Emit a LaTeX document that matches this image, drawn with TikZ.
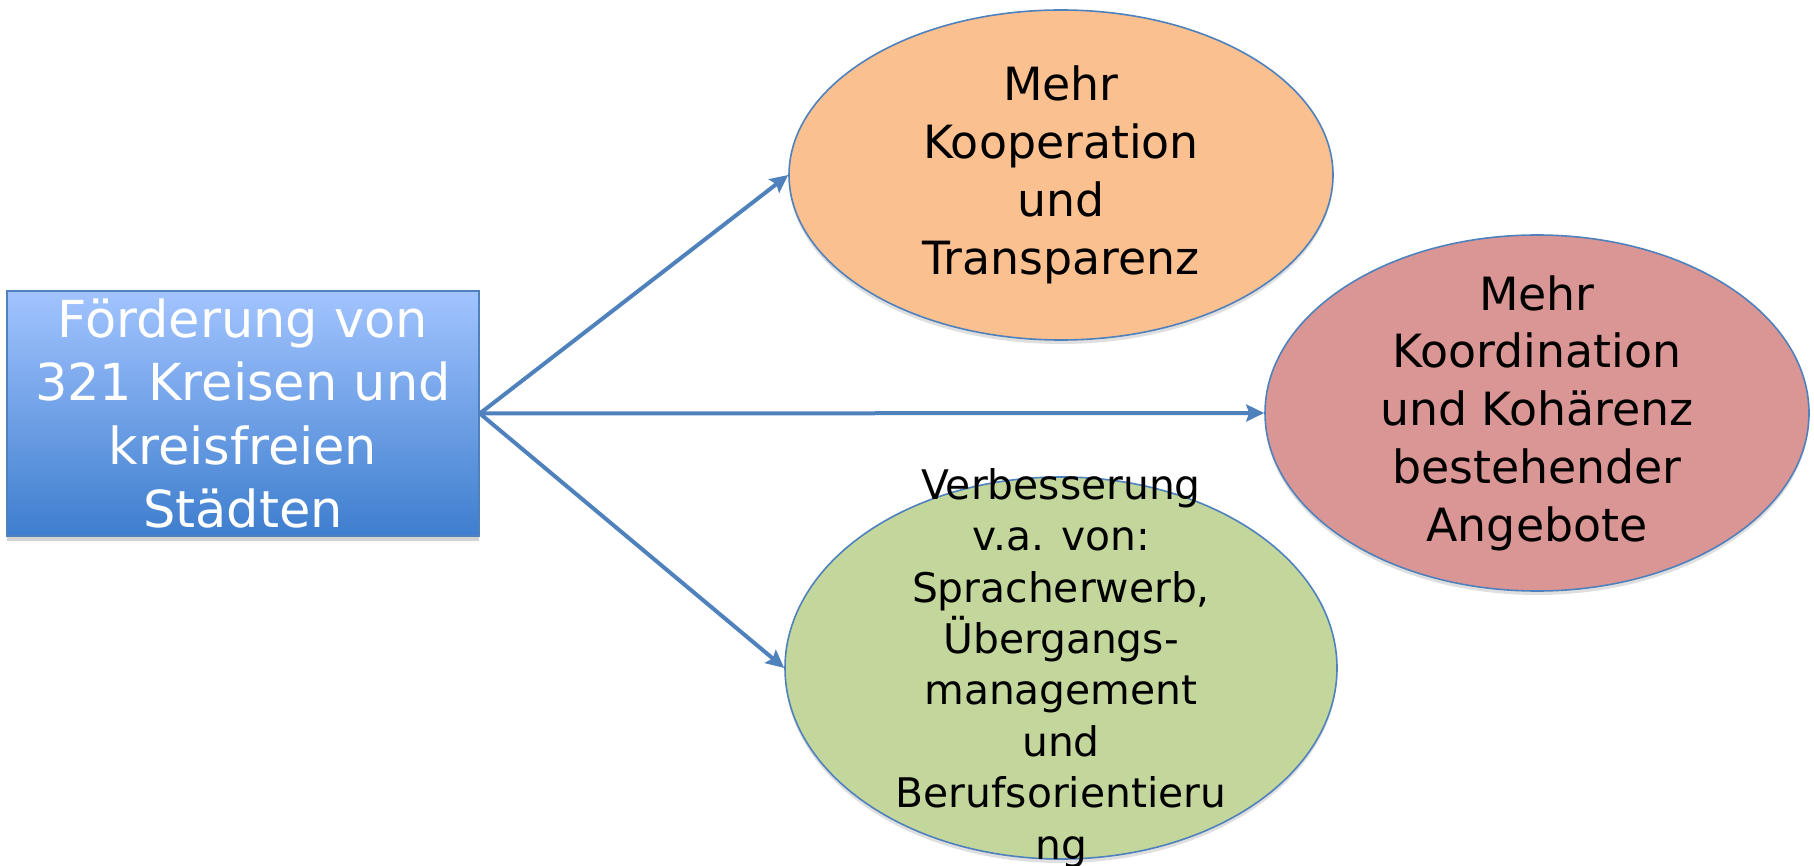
\documentclass[tikz,border=0pt]{standalone}
\usepackage{fontspec}
\setmainfont{DejaVu Sans}
\usepackage{tikz}
\usetikzlibrary{arrows.meta}
\usetikzlibrary{shapes.geometric,shadows}
\definecolor{lineblue}{HTML}{4F81BD}
\definecolor{boxtop}{HTML}{A2C4FF}
\definecolor{boxbottom}{HTML}{3E7ECE}
\definecolor{lightorange}{HTML}{FAC090}
\definecolor{lightred}{HTML}{D99694}
\definecolor{lightgreen}{HTML}{C3D69B}
\tikzset{hub/.style={rectangle, draw=lineblue, line width=0.8pt, top color=boxtop, bottom color=boxbottom, inner sep=0pt, minimum width=236pt, minimum height=122.5pt, drop shadow={shadow xshift=0pt, shadow yshift=-2.5pt, opacity=0.35}},
	goal/.style={ellipse, draw=lineblue, line width=0.8pt, inner sep=0pt, drop shadow={shadow xshift=0pt, shadow yshift=-2pt, opacity=0.25}},
	link/.style={draw=lineblue, line width=2pt, -{Stealth[length=9pt,width=8.5pt,inset=1.5pt]}}
}
\newcommand{\hubfont}{\fontsize{25.5}{31.7}\selectfont}
\newcommand{\goalfont}{\fontsize{22.9}{28.9}\selectfont}
\newcommand{\smallgoalfont}{\fontsize{20.4}{25.7}\selectfont}

\begin{document}
\begin{tikzpicture}[x=0.5pt, y=-0.5pt]
			\useasboundingbox (0,0) rectangle (1814,866);
			\node[hub, label={[text=white, font=\hubfont, align=center]center:{Förderung von\\321 Kreisen und\\kreisfreien\\Städten}}] (kreise) at (243,413.5) {};
			\node[goal, fill=lightorange, minimum width=272pt, minimum height=165pt, label={[font=\goalfont, align=center]center:{Mehr\\Kooperation\\und\\Transparenz}}] (koop) at (1061,175) {};
			\node[goal, fill=lightred, minimum width=272pt, minimum height=178pt, label={[font=\goalfont, align=center]center:{Mehr\\Koordination\\und Kohärenz\\bestehender\\Angebote}}] (koord) at (1537,413) {};
			\node[goal, fill=lightgreen, minimum width=276pt, minimum height=191pt, label={[font=\smallgoalfont, align=center]center:{Verbesserung\\v.a. von:\\Spracherwerb,\\Übergangs-\\management\\und\\Berufsorientieru\\ng}}] (verb) at (1061,668) {};
			\draw[link] (kreise.east) -- (koop.west);
			\draw[link] (kreise.east) -- (koord.west);
			\draw[link] (kreise.east) -- (verb.west);
		\end{tikzpicture}
\end{document}
